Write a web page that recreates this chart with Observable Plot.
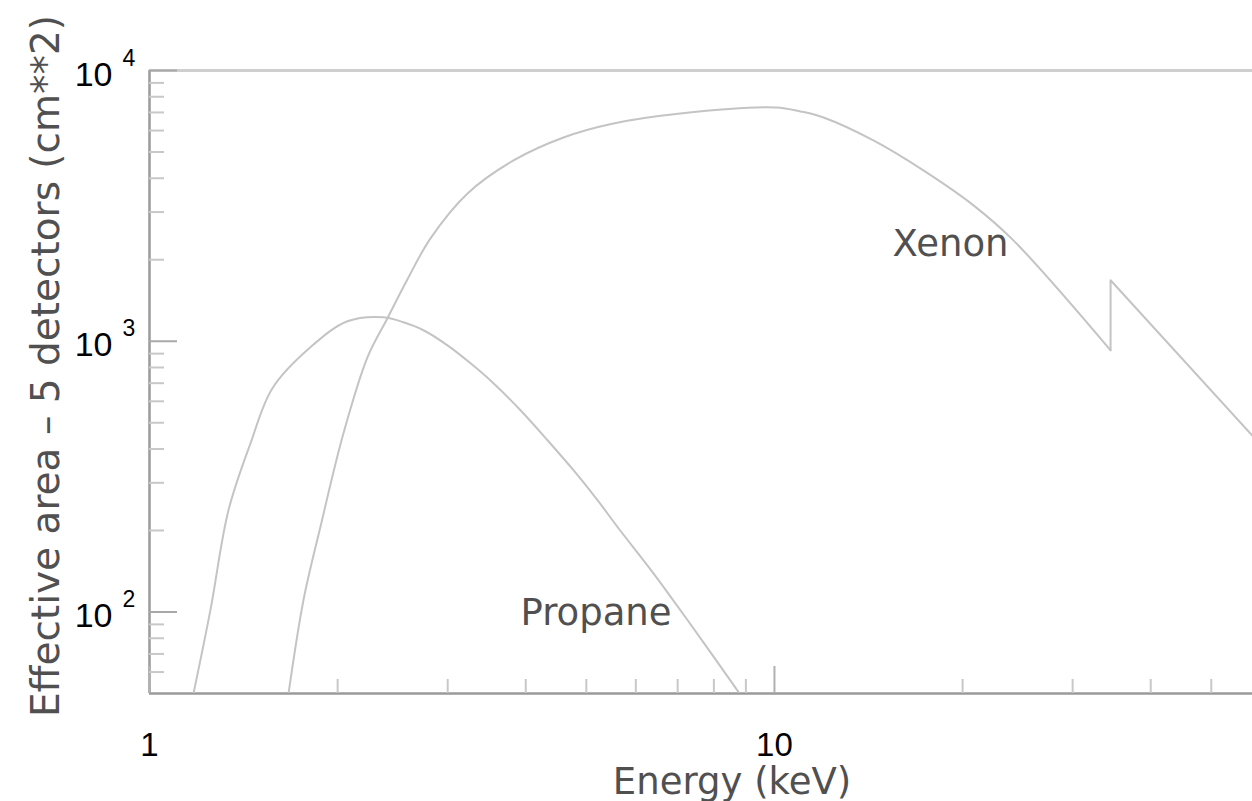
<!DOCTYPE html>
<html>
<head>
<meta charset="utf-8">
<script src="https://cdn.jsdelivr.net/npm/d3@7"></script>
<script src="https://cdn.jsdelivr.net/npm/@observablehq/plot@0.6"></script>
<style>
  html, body { margin: 0; padding: 0; background: #fff; }
  #chart svg { display: block; }
</style>
</head>
<body>
<div id="chart"></div>
<script>
// Effective area of the proportional counters (5 detectors) vs photon energy
const propaneEnergy = [1.176, 1.252, 1.338, 1.451, 1.573, 1.809, 2.074, 2.368, 2.549, 2.744, 2.998, 3.264, 3.551, 3.923, 4.334, 4.769, 5.210, 5.609, 6.403, 7.258, 8.757];
const propaneArea   = [50, 102, 238, 420, 671, 950, 1185, 1226, 1175, 1098, 966, 829, 700, 556, 431, 334, 259, 206, 139, 93.4, 50.7];

const xenonEnergy = [1.669, 1.764, 1.877, 2.044, 2.233, 2.403, 2.587, 2.816, 3.228, 3.824, 4.597, 5.525, 7.073, 10.04,
                     11.01, 11.98, 14.40, 17.31, 20.82, 24.12, 34.5, 34.5, 58.5];
const xenonArea   = [50, 111, 206, 458, 873, 1216, 1694, 2399, 3516, 4655, 5659, 6374, 6939, 7302,
                     7059, 6707, 5517, 4276, 3176, 2358, 926, 1680, 442];
// index of the K-edge drop (first of the two points at the edge energy)
const xenonEdge = 20;

// Curve labels, anchored at (energy, area)
const curveNames  = ["Xenon", "Propane"];
const curveLabelE = [15.45, 3.923];
const curveLabelA = [2059, 89.5];

// Axis ticks
const xMajor = [1, 10];
const xMajorLabels = ["1", "10"];
const xMinor = [2, 3, 4, 5, 6, 7, 8, 9, 20, 30, 40, 50];
const yMajor = [100, 1000, 10000];
const yMajorExponents = ["2", "3", "4"];
const yMinor = [60, 70, 80, 90, 200, 300, 400, 500, 600, 700, 800, 900,
                2000, 3000, 4000, 5000, 6000, 7000, 8000, 9000];

const xTitle = "Energy (keV)";
const yTitle = "Effective area \u2013 5 detectors (cm**2)";

const W = 1252, H = 801;
const mL = 149, mR = 0, mT = 70, mB = 108;
const frameW = W - mL - mR, frameH = H - mT - mB;

const propane = propaneEnergy.map((e, i) => ({energy: e, area: propaneArea[i]}));
const xenon = xenonEnergy.map((e, i) => ({energy: e, area: xenonArea[i]}));
const xenonBelowEdge = xenon.slice(0, xenonEdge + 1);
const xenonAboveEdge = xenon.slice(xenonEdge);
const curveLabels = curveNames.map((n, i) => ({name: n, energy: curveLabelE[i], area: curveLabelA[i]}));

const textFont = "DejaVu Sans, sans-serif";
const tickFont = "Liberation Sans, Arial, sans-serif";
const textColor = "#505050";
const curveColor = "#c4c4c4";

const chart = Plot.plot({
  width: W,
  height: H,
  marginLeft: mL,
  marginRight: mR,
  marginTop: mT,
  marginBottom: mB,
  style: {background: "#fff", overflow: "visible"},
  x: {type: "log", domain: [1, 58.2], axis: null},
  y: {type: "log", domain: [50, 10000], axis: null},
  marks: [
    // top border (light) and left/bottom axis lines
    Plot.ruleY([10000], {stroke: "#cfcfcf", strokeWidth: 3}),
    Plot.ruleX([1], {stroke: "#9a9a9a", strokeWidth: 2.5}),
    Plot.ruleY([50], {stroke: "#9a9a9a", strokeWidth: 2.5}),

    // inward ticks on the x axis
    Plot.ruleX(xMinor, {x: d => d, insetTop: frameH - 14, stroke: "#c8c8c8", strokeWidth: 2}),
    Plot.ruleX(xMajor, {x: d => d, insetTop: frameH - 27, stroke: "#b0b0b0", strokeWidth: 2}),

    // inward ticks on the y axis
    Plot.ruleY(yMinor, {y: d => d, insetRight: frameW - 15, stroke: "#c8c8c8", strokeWidth: 2}),
    Plot.ruleY(yMajor, {y: d => d, insetRight: frameW - 28, stroke: "#a8a8a8", strokeWidth: 2}),

    // response curves
    Plot.line(propane, {x: "energy", y: "area", curve: "catmull-rom", stroke: curveColor, strokeWidth: 2, clip: true}),
    Plot.line(xenonBelowEdge, {x: "energy", y: "area", curve: "catmull-rom", stroke: curveColor, strokeWidth: 2, clip: true}),
    Plot.line(xenonAboveEdge, {x: "energy", y: "area", stroke: curveColor, strokeWidth: 2, clip: true}),

    // curve names
    Plot.text(curveLabels, {
      x: "energy", y: "area", text: "name",
      textAnchor: "start", lineAnchor: "bottom",
      fontFamily: textFont, fontSize: 37, fill: textColor
    }),

    // x tick labels
    Plot.text(xMajor, {
      x: d => d, text: (d, i) => xMajorLabels[i],
      frameAnchor: "bottom", lineAnchor: "bottom", dy: 62,
      fontFamily: tickFont, fontSize: 33, fill: "#000"
    }),

    // y tick labels: "10" with a raised exponent
    Plot.text(yMajor, {
      y: d => d, text: () => "10",
      frameAnchor: "left", textAnchor: "end", lineAnchor: "bottom",
      dx: -37, dy: 15,
      fontFamily: tickFont, fontSize: 34, fill: "#000"
    }),
    Plot.text(yMajor, {
      y: d => d, text: (d, i) => yMajorExponents[i],
      frameAnchor: "left", textAnchor: "start", lineAnchor: "bottom",
      dx: -27, dy: -5,
      fontFamily: tickFont, fontSize: 23, fill: "#000"
    }),

    // axis titles
    Plot.text([xTitle], {
      text: d => d, frameAnchor: "bottom", lineAnchor: "bottom",
      dx: 31, dy: 100,
      fontFamily: textFont, fontSize: 37, fill: textColor
    }),
    Plot.text([yTitle], {
      text: d => d, frameAnchor: "left", textAnchor: "middle", lineAnchor: "bottom", rotate: -90,
      dx: -91, dy: -16,
      fontFamily: textFont, fontSize: 39, fill: textColor
    })
  ]
});

document.getElementById("chart").appendChild(chart);
</script>
</body>
</html>
